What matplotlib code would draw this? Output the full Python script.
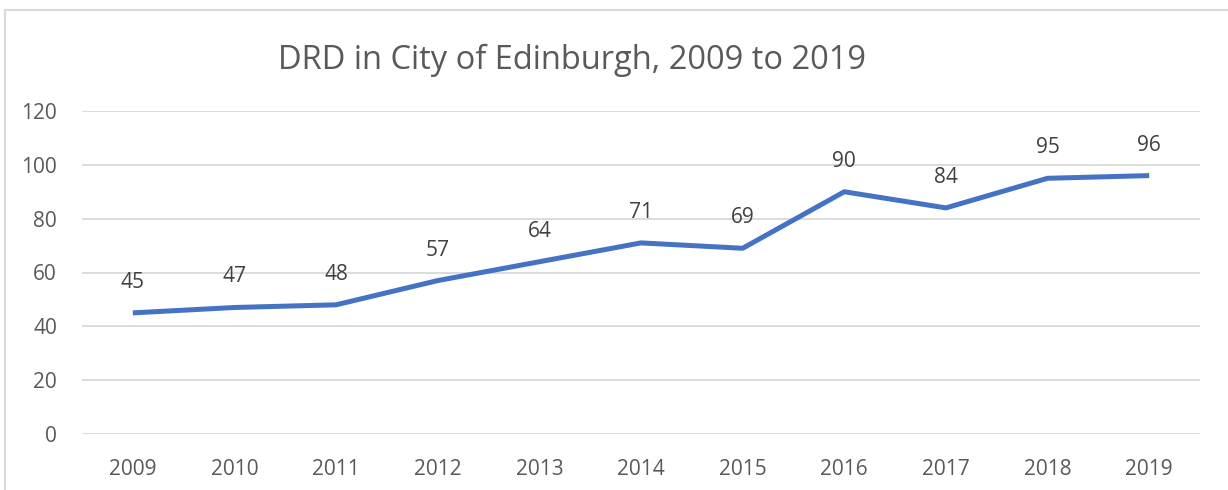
import matplotlib
matplotlib.use('Agg')
import matplotlib.pyplot as plt
from matplotlib.patches import Rectangle

years = ['2009', '2010', '2011', '2012', '2013', '2014', '2015', '2016', '2017', '2018', '2019']
deaths = [45, 47, 48, 57, 64, 71, 69, 90, 84, 95, 96]
y_ticks = [0, 20, 40, 60, 80, 100, 120]

plt.rcParams['font.family'] = ['Open Sans', 'DejaVu Sans']

W, H = 1228, 490
fig = plt.figure(figsize=(W / 100, H / 100), dpi=100)
fig.patch.set_facecolor('white')

# outer chart border (runs off right and bottom like the screenshot)
fig.patches.append(Rectangle((5 / W, -0.1), 1.2, 1 - 9.5 / H + 0.1, transform=fig.transFigure,
                             fill=False, edgecolor='#D9D9D9', linewidth=1.5))

ax = fig.add_axes([82 / W, 1 - 434 / H, (1200 - 82) / W, (434 - 111) / H])
x = list(range(len(years)))
ax.plot(x, deaths, color='#4472C4', linewidth=3.6, solid_capstyle='butt', zorder=3)

for xi, v in zip(x, deaths):
    ax.annotate(str(v), (xi, v), xytext=(0, 22), textcoords='offset points',
                ha='center', va='center', fontsize=15, color='#404040')

ax.set_xlim(-0.5, len(years) - 0.5)
ax.set_ylim(0, 120)
ax.set_yticks(y_ticks)
ax.set_xticks(x)
ax.set_xticklabels(years)
ax.grid(axis='y', color='#D9D9D9', linewidth=1.3)
ax.set_axisbelow(True)
for s in ax.spines.values():
    s.set_visible(False)
ax.tick_params(length=0, labelsize=15, labelcolor='#595959')
ax.tick_params(axis='x', pad=18)
ax.tick_params(axis='y', pad=18)

fig.text(572 / W, 1 - 60 / H, 'DRD in City of Edinburgh, 2009 to 2019', ha='center', va='center',
         fontsize=23.5, color='#595959')

fig.savefig('out.png', dpi=100)
